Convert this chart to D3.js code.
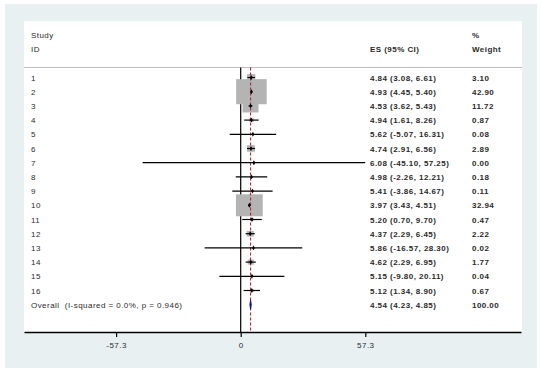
<!DOCTYPE html>
<html>
<head>
<meta charset="utf-8">
<script src="https://cdn.jsdelivr.net/npm/d3@7"></script>
<style>
  body { margin: 0; background: #fff; }
  svg { display: block; font-family: "Liberation Sans", Arial, sans-serif; }
  .lbl { font-size: 8px; letter-spacing: 0.45px; fill: #2a2a2a; }
  .bold { font-weight: bold; }
</style>
</head>
<body>
<div id="chart"></div>
<script>
const studies = ['1', '2', '3', '4', '5', '6', '7', '8', '9', '10', '11', '12', '13', '14', '15', '16'];
const es = [4.84, 4.93, 4.53, 4.94, 5.62, 4.74, 6.08, 4.98, 5.41, 3.97, 5.20, 4.37, 5.86, 4.62, 5.15, 5.12];
const ciLow = [3.08, 4.45, 3.62, 1.61, -5.07, 2.91, -45.10, -2.26, -3.86, 3.43, 0.70, 2.29, -16.57, 2.29, -9.80, 1.34];
const ciHigh = [6.61, 5.40, 5.43, 8.26, 16.31, 6.56, 57.25, 12.21, 14.67, 4.51, 9.70, 6.45, 28.30, 6.95, 20.11, 8.90];
const weights = [3.10, 42.90, 11.72, 0.87, 0.08, 2.89, 0.00, 0.18, 0.11, 32.94, 0.47, 2.22, 0.02, 1.77, 0.04, 0.67];
const overallLabel = 'Overall  (I-squared = 0.0%, p = 0.946)';
const overall = { es: 4.54, lo: 4.23, hi: 4.85, weight: 100.00 };
const tickValues = [-57.3, 0, 57.3];

const width = 542;
const height = 373;

const svg = d3.select('#chart').append('svg')
  .attr('width', width)
  .attr('height', height);

// outer panel and inner plot region
svg.append('rect').attr('x', 5).attr('y', 4).attr('width', 532).attr('height', 364).attr('fill', '#e8f0f2');
svg.append('rect').attr('x', 24).attr('y', 21).attr('width', 498).attr('height', 311).attr('fill', '#fff');

const x = d3.scaleLinear().domain([-99.65, 128.9]).range([24, 521]);
const y = d3.scalePoint().domain([...studies, 'Overall']).range([77.5, 304.7]);
const boxSize = d3.scaleSqrt().domain([0, 42.9]).range([0, 30.6]);

const fmt = v => v.toFixed(2);

// headers
svg.append('text').attr('class', 'lbl').attr('x', 31).attr('y', 38).text('Study');
svg.append('text').attr('class', 'lbl').attr('x', 31).attr('y', 52).text('ID');
svg.append('text').attr('class', 'lbl bold').attr('x', 370).attr('y', 52).text('ES (95% CI)');
svg.append('text').attr('class', 'lbl bold').attr('x', 472).attr('y', 38).text('%');
svg.append('text').attr('class', 'lbl bold').attr('x', 472).attr('y', 52).text('Weight');

svg.append('line')
  .attr('x1', 24).attr('x2', 522).attr('y1', 67.5).attr('y2', 67.5)
  .attr('stroke', '#bdbdbd').attr('stroke-width', 1);

// null line
svg.append('line')
  .attr('x1', x(0)).attr('x2', x(0)).attr('y1', 67.5).attr('y2', 332)
  .attr('stroke', '#000').attr('stroke-width', 1.2);

const rows = studies.map((s, i) => ({
  id: s, es: es[i], lo: ciLow[i], hi: ciHigh[i], w: weights[i]
}));

// weight boxes
svg.selectAll('.box')
  .data(rows)
  .enter()
  .append('rect')
  .attr('class', 'box')
  .attr('x', d => x(d.es) - boxSize(d.w) / 2)
  .attr('y', d => y(d.id) - boxSize(d.w) * 0.82 / 2)
  .attr('width', d => boxSize(d.w))
  .attr('height', d => boxSize(d.w) * 0.82)
  .attr('fill', '#b4b4b4');

// overall effect line
svg.append('line')
  .attr('x1', x(overall.es)).attr('x2', x(overall.es)).attr('y1', 67.5).attr('y2', 332)
  .attr('stroke', '#a0303c').attr('stroke-width', 1.1)
  .attr('stroke-dasharray', '3,2');

// confidence intervals
svg.selectAll('.ci')
  .data(rows)
  .enter()
  .append('line')
  .attr('class', 'ci')
  .attr('x1', d => x(d.lo))
  .attr('x2', d => x(d.hi))
  .attr('y1', d => y(d.id))
  .attr('y2', d => y(d.id))
  .attr('stroke', '#000')
  .attr('stroke-width', 1.2);

// point estimates
svg.selectAll('.pt')
  .data(rows)
  .enter()
  .append('path')
  .attr('class', 'pt')
  .attr('d', d3.symbol(d3.symbolDiamond, 7))
  .attr('transform', d => `translate(${x(d.es)},${y(d.id)})`)
  .attr('fill', '#000');

// overall diamond
const oy = y('Overall');
svg.append('polygon')
  .attr('points', [
    [x(overall.lo), oy], [x(overall.es), oy - 4.5],
    [x(overall.hi), oy], [x(overall.es), oy + 4.5]
  ].map(p => p.join(',')).join(' '))
  .attr('fill', '#14147a')
  .attr('stroke', '#14147a')
  .attr('stroke-width', 1);

// row text
const rowText = svg.selectAll('.row')
  .data(rows)
  .enter()
  .append('g')
  .attr('class', 'row')
  .attr('transform', d => `translate(0,${y(d.id) + 3})`);

rowText.append('text').attr('class', 'lbl').attr('x', 31).text(d => d.id);
rowText.append('text').attr('class', 'lbl bold').attr('x', 370)
  .text(d => `${fmt(d.es)} (${fmt(d.lo)}, ${fmt(d.hi)})`);
rowText.append('text').attr('class', 'lbl bold').attr('x', 472).text(d => fmt(d.w));

svg.append('text').attr('class', 'lbl').attr('x', 31).attr('y', oy + 3)
  .style('white-space', 'pre').text(overallLabel);
svg.append('text').attr('class', 'lbl bold').attr('x', 370).attr('y', oy + 3)
  .text(`${fmt(overall.es)} (${fmt(overall.lo)}, ${fmt(overall.hi)})`);
svg.append('text').attr('class', 'lbl bold').attr('x', 472).attr('y', oy + 3).text(fmt(overall.weight));

// x axis
const axis = svg.append('g')
  .attr('transform', 'translate(0,332)')
  .call(d3.axisBottom(x).tickValues(tickValues).tickSize(5).tickSizeOuter(0).tickFormat(d => d));

axis.select('.domain').attr('stroke', '#000').attr('stroke-width', 1.3);
axis.selectAll('.tick line').attr('stroke', '#000').attr('stroke-width', 1.2);
axis.selectAll('.tick text')
  .attr('y', 10)
  .attr('dy', '0.71em')
  .attr('fill', '#2a2a2a')
  .style('font-size', '8px')
  .style('letter-spacing', '0.45px')
  .style('font-family', '"Liberation Sans", Arial, sans-serif');
</script>
</body>
</html>
